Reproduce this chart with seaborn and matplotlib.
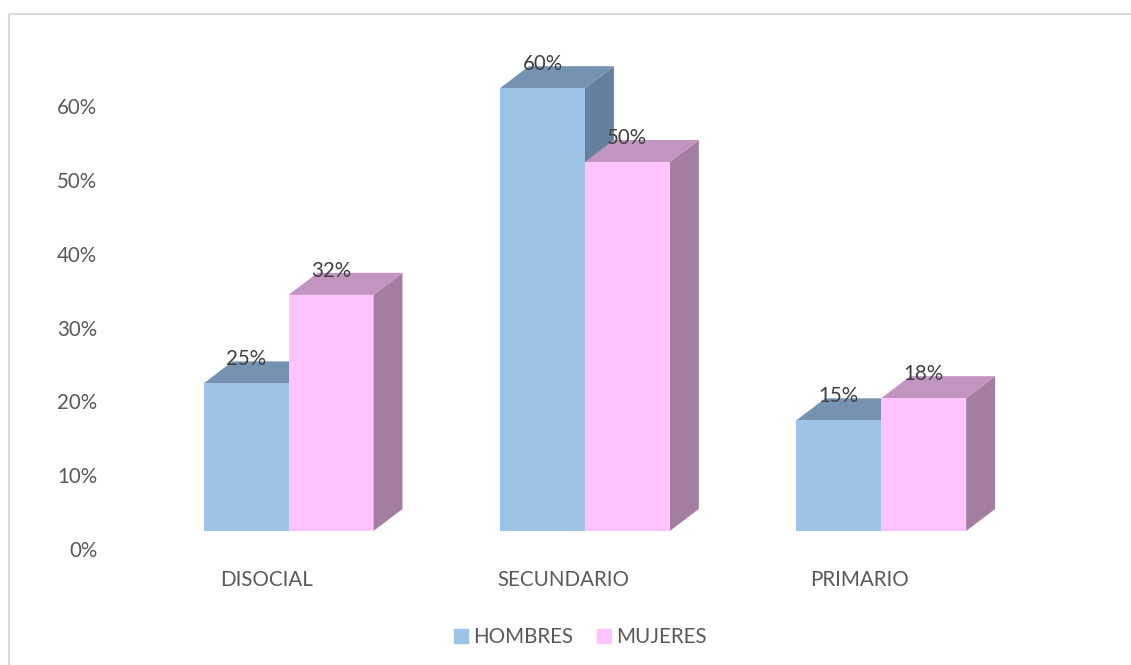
import matplotlib
matplotlib.use("Agg")
import matplotlib.pyplot as plt
import matplotlib.transforms as mtransforms
from matplotlib.patches import Polygon, Rectangle
import pandas as pd
import seaborn as sns

categories = ["DISOCIAL", "SECUNDARIO", "PRIMARIO"]
hombres = [20, 60, 15]
mujeres = [32, 50, 18]
# printed labels (first one does not match its drawn bar in the original)
hombres_labels = ["25%", "60%", "15%"]
mujeres_labels = ["32%", "50%", "18%"]
yticks = [0, 10, 20, 30, 40, 50, 60]

colors = {"HOMBRES": "#9DC3E6", "MUJERES": "#FFC4FF"}
top_colors = {"HOMBRES": "#7593B0", "MUJERES": "#C195C0"}
side_colors = {"HOMBRES": "#64809C", "MUJERES": "#A37EA1"}

W, H = 1131, 665
FS = 14.8
sns.set_theme(style="white")
plt.rcParams["font.family"] = ["Lato", "DejaVu Sans"]

df = pd.DataFrame({
    "cat": categories * 2,
    "serie": ["HOMBRES"] * 3 + ["MUJERES"] * 3,
    "valor": hombres + mujeres,
})

fig = plt.figure(figsize=(W / 100, H / 100), dpi=100)
ax = fig.add_axes([140.4 / W, (H - 531) / H, 889 / W, 516.6 / H])
sns.barplot(data=df, x="cat", y="valor", hue="serie", order=categories,
            palette=colors, saturation=1, width=0.573, gap=0, ax=ax, zorder=3,
            linewidth=0)
ax.set_xlim(-0.5, 2.5)
ax.set_ylim(0, 70)
ax.set_xlabel("")
ax.set_ylabel("")
sns.despine(ax=ax, left=True, bottom=True)

# 3D depth in data units
px_x = 3 / 889
px_y = 70 / 516.6
dx = 29 * px_x
dy = 22 * px_y

labels = {"HOMBRES": hombres_labels, "MUJERES": mujeres_labels}
for container, serie in zip(ax.containers, ["HOMBRES", "MUJERES"]):
    for bar, txt in zip(container, labels[serie]):
        x0 = bar.get_x()
        x1 = x0 + bar.get_width()
        h = bar.get_height()
        ax.add_patch(Polygon([(x1, 0), (x1 + dx, dy), (x1 + dx, h + dy), (x1, h)],
                             color=side_colors[serie], lw=0, zorder=2, clip_on=False))
        ax.add_patch(Polygon([(x0, h), (x0 + dx, h + dy), (x1 + dx, h + dy), (x1, h)],
                             color=top_colors[serie], lw=0, zorder=2, clip_on=False))
        ax.annotate(txt, (x0 + bar.get_width() / 2, h), xytext=(0, 24),
                    textcoords="offset pixels", ha="center", va="center",
                    fontsize=FS, color="#404040", zorder=5)

ax.set_yticks(yticks)
ax.set_yticklabels([f"{v}%" for v in yticks])
ax.set_xticks(range(len(categories)))
ax.set_xticklabels(categories)
ax.tick_params(axis="both", length=0, labelsize=FS, labelcolor="#595959")
ax.tick_params(axis="y", pad=31)
ax.tick_params(axis="x", pad=28)

# tick labels sit off the front face in the original
ylab_off = mtransforms.ScaledTranslation(0, -18 / 100, fig.dpi_scale_trans)
xlab_off = mtransforms.ScaledTranslation(-22 / 100, 0, fig.dpi_scale_trans)
for lab in ax.get_yticklabels():
    lab.set_transform(lab.get_transform() + ylab_off)
for lab in ax.get_xticklabels():
    lab.set_transform(lab.get_transform() + xlab_off)

handles = [Rectangle((0, 0), 1, 1, color=colors[s]) for s in colors]
ax.legend_.remove()
fig.legend(handles, list(colors), loc="center", bbox_to_anchor=(580 / W, (H - 637) / H),
           ncol=2, frameon=False, fontsize=FS, labelcolor="#595959",
           handlelength=0.68, handleheight=0.68, handletextpad=0.25, columnspacing=1.17)

# outer frame, only left and top visible
fig.add_artist(plt.Line2D([8.5 / W, 8.5 / W, 1], [0, (H - 14) / H, (H - 14) / H],
                          color="#D9D9D9", lw=1.5))

fig.savefig("out.png", dpi=100)
